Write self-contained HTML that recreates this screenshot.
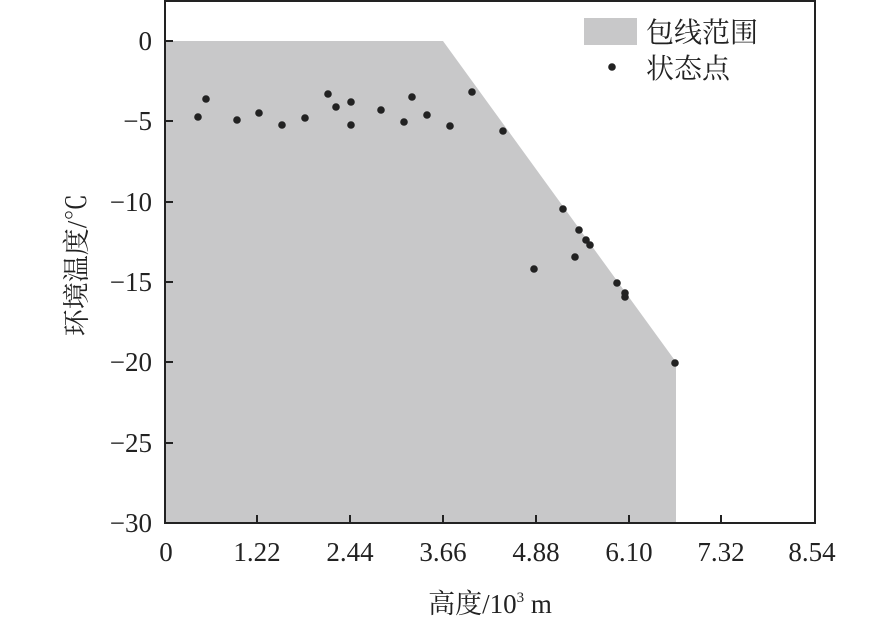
<!DOCTYPE html>
<html><head><meta charset="utf-8"><style>
html,body{margin:0;padding:0;background:#fff;}
svg text{font-family:"Liberation Serif","Noto Serif CJK SC","Noto Sans CJK SC",serif;fill:#222;}
</style></head><body>
<svg width="886" height="625" viewBox="0 0 886 625" xmlns="http://www.w3.org/2000/svg">
<polygon points="165,41 443,41 676,362 676,523 165,523" fill="#c8c8c9"/>
<g fill="#222">
<circle cx="198" cy="117" r="3.8"/><circle cx="206" cy="99" r="3.8"/><circle cx="237" cy="120" r="3.8"/>
<circle cx="259" cy="113" r="3.8"/><circle cx="282" cy="125" r="3.8"/><circle cx="305" cy="118" r="3.8"/>
<circle cx="328" cy="94" r="3.8"/><circle cx="336" cy="107" r="3.8"/><circle cx="351" cy="102" r="3.8"/>
<circle cx="351" cy="125" r="3.8"/><circle cx="381" cy="110" r="3.8"/><circle cx="404" cy="122" r="3.8"/>
<circle cx="412" cy="97" r="3.8"/><circle cx="427" cy="115" r="3.8"/><circle cx="450" cy="126" r="3.8"/>
<circle cx="472" cy="92" r="3.8"/><circle cx="503" cy="131" r="3.8"/>
<circle cx="563" cy="209" r="3.8"/><circle cx="579" cy="230" r="3.8"/><circle cx="586" cy="240" r="3.8"/>
<circle cx="590" cy="245" r="3.8"/><circle cx="575" cy="257" r="3.8"/><circle cx="534" cy="269" r="3.8"/>
<circle cx="617" cy="283" r="3.8"/><circle cx="625" cy="293" r="3.8"/><circle cx="625" cy="297" r="3.8"/>
<circle cx="675" cy="363" r="3.8"/>
</g>
<rect x="165" y="1" width="650" height="522" fill="none" stroke="#222" stroke-width="2"/>
<g stroke="#222" stroke-width="2">
<line x1="165" y1="41" x2="173" y2="41"/><line x1="165" y1="121" x2="173" y2="121"/>
<line x1="165" y1="202" x2="173" y2="202"/><line x1="165" y1="282" x2="173" y2="282"/>
<line x1="165" y1="362" x2="173" y2="362"/><line x1="165" y1="443" x2="173" y2="443"/>
<line x1="257" y1="523" x2="257" y2="515"/><line x1="350" y1="523" x2="350" y2="515"/>
<line x1="443" y1="523" x2="443" y2="515"/><line x1="536" y1="523" x2="536" y2="515"/>
<line x1="629" y1="523" x2="629" y2="515"/><line x1="721" y1="523" x2="721" y2="515"/>
</g>
<g font-size="27" text-anchor="end">
<text x="152" y="50">0</text><text x="152" y="130">−5</text><text x="152" y="211">−10</text>
<text x="152" y="291">−15</text><text x="152" y="371">−20</text><text x="152" y="452">−25</text>
<text x="152" y="532">−30</text>
</g>
<g font-size="27" text-anchor="middle">
<text x="166" y="561">0</text><text x="257" y="561">1.22</text><text x="350" y="561">2.44</text>
<text x="443" y="561">3.66</text><text x="536" y="561">4.88</text><text x="629" y="561">6.10</text>
<text x="721" y="561">7.32</text><text x="812" y="561">8.54</text>
</g>
<text x="490" y="613" font-size="27" text-anchor="middle">高度/10<tspan font-size="15" dy="-11">3</tspan><tspan dy="11"> m</tspan></text>
<text transform="translate(86,265) rotate(-90)" font-size="27" text-anchor="middle">环境温度/℃</text>
<rect x="584" y="18" width="53" height="27" fill="#c8c8c9"/>
<text x="646" y="42" font-size="28">包线范围</text>
<circle cx="612" cy="67" r="3.8" fill="#222"/>
<text x="646" y="78" font-size="28">状态点</text>
</svg>
</body></html>
